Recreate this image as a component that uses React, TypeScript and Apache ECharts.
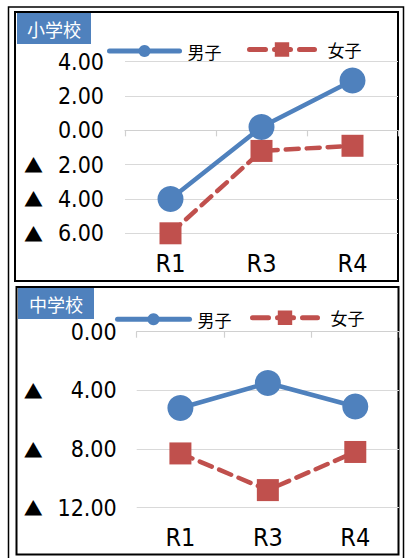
import React, { useEffect, useRef } from "react";
import * as echarts from "echarts";

const categories = ["R1", "R3", "R4"];
const elemBoys = [-4.0, 0.2, 2.9];
const elemGirls = [-6.0, -1.2, -0.9];
const juniorBoys = [-5.2, -3.5, -5.1];
const juniorGirls = [-8.3, -10.8, -8.2];
const boysName = "男子";
const girlsName = "女子";
const elemTitle = "小学校";
const juniorTitle = "中学校";

const BLUE = "#4F81BD";
const RED = "#C0504D";
const NUM_FONT = "'Liberation Sans Narrow', 'DejaVu Sans Condensed', 'Roboto Condensed', sans-serif";
const CJK_FONT = "'Noto Sans CJK JP', sans-serif";

const makeLabel = (w: number) => ({
  color: "#000",
  fontSize: 23,
  fontFamily: NUM_FONT,
  margin: 21,
  formatter: (v: number) =>
    v < 0
      ? `{t|▲}{n|${Math.abs(v).toFixed(2)}}`
      : `{n|${v.toFixed(2)}}`,
  rich: {
    t: { fontFamily: CJK_FONT, fontSize: 19, color: "#000" },
    n: { width: w, align: "right", fontFamily: NUM_FONT, fontSize: 23, color: "#000" },
  },
});

const zeroAxis = (gridIndex: number) => ({
  type: "category",
  gridIndex,
  data: categories,
  position: "bottom",
  axisLine: { show: true, onZero: true, lineStyle: { color: "#d0d0d0", width: 1.2 } },
  axisTick: { show: true, length: 6, lineStyle: { color: "#d0d0d0", width: 1.2 } },
  axisLabel: { show: false },
  splitLine: { show: false },
});

const labelAxis = (gridIndex: number, margin: number) => ({
  type: "category",
  gridIndex,
  data: categories,
  position: "bottom",
  axisLine: { show: false, onZero: false },
  axisTick: { show: false },
  axisLabel: { show: true, color: "#000", fontSize: 25, fontFamily: NUM_FONT, margin },
  splitLine: { show: false },
});

const boysSeries = (x: number, y: number, data: number[]) => ({
  name: boysName,
  type: "line",
  xAxisIndex: x,
  yAxisIndex: y,
  data,
  symbol: "circle",
  symbolSize: 26,
  itemStyle: { color: BLUE },
  lineStyle: { color: BLUE, width: 4.5 },
});

const girlsSeries = (x: number, y: number, data: number[]) => ({
  name: girlsName,
  type: "line",
  xAxisIndex: x,
  yAxisIndex: y,
  data,
  symbol: "rect",
  symbolSize: 22,
  itemStyle: { color: RED },
  lineStyle: { color: RED, width: 4.5, type: [13, 8], cap: "round" },
});

const legend = (name: string, left: number, top: number, w: number, h: number, pad: number, dashed: boolean) => ({
  data: [name],
  left,
  top,
  padding: 0,
  itemWidth: w,
  itemHeight: h,
  selectedMode: false,
  lineStyle: dashed
    ? { width: 5, type: [16, 9], cap: "round" }
    : { width: 5, cap: "round" },
  textStyle: { color: "#000", fontSize: 17, fontFamily: CJK_FONT, padding: [0, 0, 0, pad] },
});

export default function App() {
  const ref = useRef<HTMLDivElement>(null);
  useEffect(() => {
    if (!ref.current) return;
    const chart = echarts.init(ref.current, null, { renderer: "svg" });
    chart.setOption({
      animation: false,
      backgroundColor: "#fff",
      grid: [
        { left: 125, right: 11, top: 61.7, height: 171.6 },
        { left: 136.7, right: 10, top: 331.7, height: 176 },
      ],
      xAxis: [zeroAxis(0), labelAxis(0, 18), zeroAxis(1), labelAxis(1, 17)],
      yAxis: [
        {
          type: "value",
          gridIndex: 0,
          min: -6,
          max: 4,
          interval: 2,
          axisLine: { show: false },
          axisTick: { show: false },
          splitLine: { show: true, lineStyle: { color: "#d9d9d9", width: 1.2 } },
          axisLabel: makeLabel(61),
        },
        {
          type: "value",
          gridIndex: 1,
          min: -12,
          max: 0,
          interval: 4,
          axisLine: { show: false },
          axisTick: { show: false },
          splitLine: { show: true, lineStyle: { color: "#d9d9d9", width: 1.2 } },
          axisLabel: { ...makeLabel(74), margin: 20 },
        },
      ],
      legend: [
        legend(boysName, 107, 42.5, 70, 15, 3, false),
        legend(girlsName, 247, 41, 65, 18, 8, true),
        legend(boysName, 115, 310.8, 72, 15, 3, false),
        legend(girlsName, 250, 309.3, 65, 18, 8, true),
      ],
      series: [
        boysSeries(0, 0, elemBoys),
        girlsSeries(0, 0, elemGirls),
        boysSeries(2, 1, juniorBoys),
        girlsSeries(2, 1, juniorGirls),
      ],
      graphic: [
        {
          type: "polyline",
          shape: { points: [[8.5, 562], [8.5, 7], [403.5, 7], [403.5, 562]] },
          style: { fill: "none", stroke: "#000", lineWidth: 1.5 },
          silent: true,
        },
        {
          type: "rect",
          shape: { x: 15, y: 12, width: 383, height: 269 },
          style: { fill: "none", stroke: "#000", lineWidth: 2 },
          silent: true,
        },
        {
          type: "rect",
          shape: { x: 16.5, y: 287, width: 382, height: 267.5 },
          style: { fill: "none", stroke: "#000", lineWidth: 2 },
          silent: true,
        },
        {
          type: "rect",
          shape: { x: 17, y: 13, width: 74, height: 31 },
          style: { fill: BLUE },
          silent: true,
        },
        {
          type: "text",
          x: 54,
          y: 28.5,
          style: { text: elemTitle, fill: "#fff", fontSize: 18, fontFamily: CJK_FONT, align: "center", verticalAlign: "middle" },
          silent: true,
        },
        {
          type: "rect",
          shape: { x: 18, y: 288, width: 76, height: 31 },
          style: { fill: BLUE },
          silent: true,
        },
        {
          type: "text",
          x: 56,
          y: 303.5,
          style: { text: juniorTitle, fill: "#fff", fontSize: 18, fontFamily: CJK_FONT, align: "center", verticalAlign: "middle" },
          silent: true,
        },
      ],
    });
    return () => chart.dispose();
  }, []);
  return (
    <div
      ref={ref}
      style={{ position: "fixed", left: 0, top: 0, width: 409, height: 558 }}
    />
  );
}
